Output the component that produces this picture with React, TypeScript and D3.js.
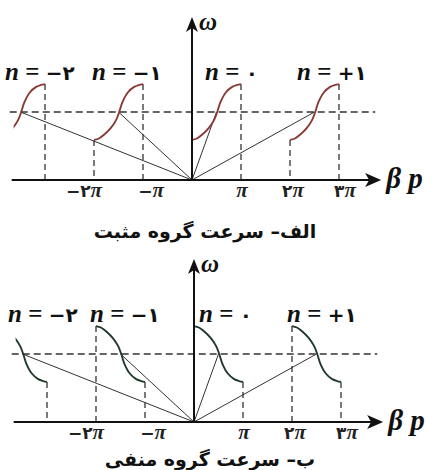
import React from "react";
import * as d3 from "d3";

// Band index n of each branch, its sign and Persian numeral
const bandOrders = [-2, -1, 0, 1];
const bandSigns = ["−", "−", "", "+"];
const bandDigits = ["۲", "۱", "۰", "۱"];

// βp tick positions (multiples of π) and their labels
const tickValues = [-2, -1, 1, 2, 3];
const tickPrefix = ["−۲", "−", "", "۲", "۳"];

// Normalised shape of one branch across a band of width π:
// fraction across the band vs. offset from the mid frequency (−1 … +1)
const shapeU = [0, 0.1, 0.21, 0.34, 0.45, 0.515, 0.58, 0.69, 0.82, 0.92, 1];
const shapeV = [-1, -0.95, -0.81, -0.58, -0.29, 0, 0.35, 0.7, 0.9, 0.97, 1];

// Frequencies (arbitrary units): band centre and half-width
const omegaMid = 1;
const omegaHalf = 0.41;

const captions = ["الف– سرعت گروه مثبت", "ب– سرعت گروه منفی"];

const W = 428;
const H = 470;

type Panel = {
  ox: number;
  oy: number;
  slope: number; // +1 rising branch, −1 falling branch
  color: string;
  labelX: number[];
  captionX: number;
  captionY: number;
};

const panels: Panel[] = [
  { ox: 192, oy: 180, slope: 1, color: "#8a3a34", labelX: [5, 92, 205, 297], captionX: 205, captionY: 238 },
  { ox: 194, oy: 422, slope: -1, color: "#1f3a2b", labelX: [8, 90, 199, 287], captionX: 210, captionY: 466 },
];

const tickDx = [-10, 8, 1, 3, 6];

const serif = "Liberation Serif, Times New Roman, DejaVu Serif, serif";
const digitFont = "DejaVu Sans, sans-serif";

function PanelView({ p }: { p: Panel }) {
  const x = d3.scaleLinear().domain([0, 1]).range([p.ox, p.ox + 49]);
  const y = d3.scaleLinear().domain([0, 1]).range([p.oy, p.oy - 68]);
  const xMin = -3.68;
  const xMax = 3.86;
  const clipId = `clip-${p.oy}`;

  const line = d3
    .line<[number, number]>()
    .x((d) => x(d[0]))
    .y((d) => y(d[1]))
    .curve(d3.curveCatmullRom.alpha(0.5));

  const branch = (n: number): [number, number][] =>
    shapeU.map((u, i) => [2 * n + u, omegaMid + p.slope * omegaHalf * shapeV[i]]);

  const axisTopY = y(0) - 163;
  const tipX = x(xMax);

  // band edges with the frequency at which the branch meets them
  const edges: { b: number; w: number }[] = [];
  bandOrders.forEach((n) => {
    edges.push({ b: 2 * n, w: omegaMid - p.slope * omegaHalf });
    edges.push({ b: 2 * n + 1, w: omegaMid + p.slope * omegaHalf });
  });

  return (
    <g>
      <defs>
        <clipPath id={clipId}>
          <rect x={x(-3.64)} y={p.oy - 200} width={400} height={210} />
        </clipPath>
      </defs>

      {/* dashed band-edge markers */}
      {edges
        .filter((e) => e.b !== 0 && e.b > xMin)
        .map((e, i) => (
          <line
            key={`e${i}`}
            x1={x(e.b)}
            x2={x(e.b)}
            y1={y(e.w)}
            y2={y(0)}
            stroke="#333"
            strokeWidth={1.3}
            strokeDasharray="6 4"
          />
        ))}

      {/* mid-band frequency */}
      <line
        x1={x(-3.72)}
        x2={x(3.74)}
        y1={y(omegaMid)}
        y2={y(omegaMid)}
        stroke="#333"
        strokeWidth={1.3}
        strokeDasharray="7 4"
      />

      {/* phase-velocity lines from the origin */}
      {bandOrders.map((n) => (
        <line
          key={`v${n}`}
          x1={x(0)}
          y1={y(0)}
          x2={x(2 * n + 0.5)}
          y2={y(omegaMid)}
          stroke="#333"
          strokeWidth={1}
        />
      ))}

      {/* dispersion branches */}
      <g clipPath={`url(#${clipId})`}>
        {bandOrders.map((n) => (
          <path key={`b${n}`} d={line(branch(n)) || ""} fill="none" stroke={p.color} strokeWidth={1.9} />
        ))}
      </g>

      {/* axes */}
      <line x1={x(xMin)} x2={tipX - 8} y1={y(0)} y2={y(0)} stroke="#111" strokeWidth={2} />
      <path d={`M${tipX},${y(0)} L${tipX - 16},${y(0) - 7} L${tipX - 12},${y(0)} L${tipX - 16},${y(0) + 7} Z`} fill="#111" />
      <line x1={x(0)} x2={x(0)} y1={y(0)} y2={axisTopY + 8} stroke="#111" strokeWidth={2} />
      <path
        d={`M${x(0)},${axisTopY} L${x(0) - 6},${axisTopY + 15} L${x(0)},${axisTopY + 11} L${x(0) + 6},${axisTopY + 15} Z`}
        fill="#111"
      />
      <text x={x(0) + 7} y={axisTopY + 13} fontFamily={serif} fontStyle="italic" fontWeight="bold" fontSize={25} fill="#111">
        ω
      </text>
      <text x={tipX + 5} y={y(0) + 8} fontFamily={serif} fontStyle="italic" fontWeight="bold" fontSize={29} fill="#111">
        β p
      </text>

      {/* tick labels */}
      {tickValues.map((t, i) => (
        <text
          key={`t${t}`}
          x={x(t) + tickDx[i]}
          y={y(0) + 17}
          textAnchor="middle"
          fontFamily={serif}
          fontWeight="bold"
          fontSize={21}
          fill="#222"
        >
          <tspan fontFamily={digitFont} fontSize={17}>{tickPrefix[i]}</tspan>
          <tspan fontStyle="italic">π</tspan>
        </text>
      ))}

      {/* band labels */}
      {bandOrders.map((n, i) => (
        <text
          key={`n${n}`}
          x={p.labelX[i]}
          y={p.oy - 100}
          textAnchor="start"
          fontFamily={serif}
          fontWeight="bold"
          fontSize={25}
          fill="#111"
        >
          <tspan fontStyle="italic">n</tspan>
          <tspan> = </tspan>
          <tspan fontFamily={digitFont} fontSize={20}>
            {bandSigns[i]}
            {bandDigits[i]}
          </tspan>
        </text>
      ))}
    </g>
  );
}

export default function App() {
  return (
    <div style={{ position: "fixed", left: 0, top: 0 }}>
      <svg width={W} height={H} viewBox={`0 0 ${W} ${H}`} style={{ display: "block", background: "#fff" }}>
        <rect width={W} height={H} fill="#fff" />
        {panels.map((p, i) => (
          <g key={i}>
            <PanelView p={p} />
            <text
              x={p.captionX}
              y={p.captionY}
              textAnchor="middle"
              direction="rtl"
              fontFamily="DejaVu Sans, sans-serif"
              fontWeight="bold"
              fontSize={19}
              fill="#111"
            >
              {captions[i]}
            </text>
          </g>
        ))}
      </svg>
    </div>
  );
}
